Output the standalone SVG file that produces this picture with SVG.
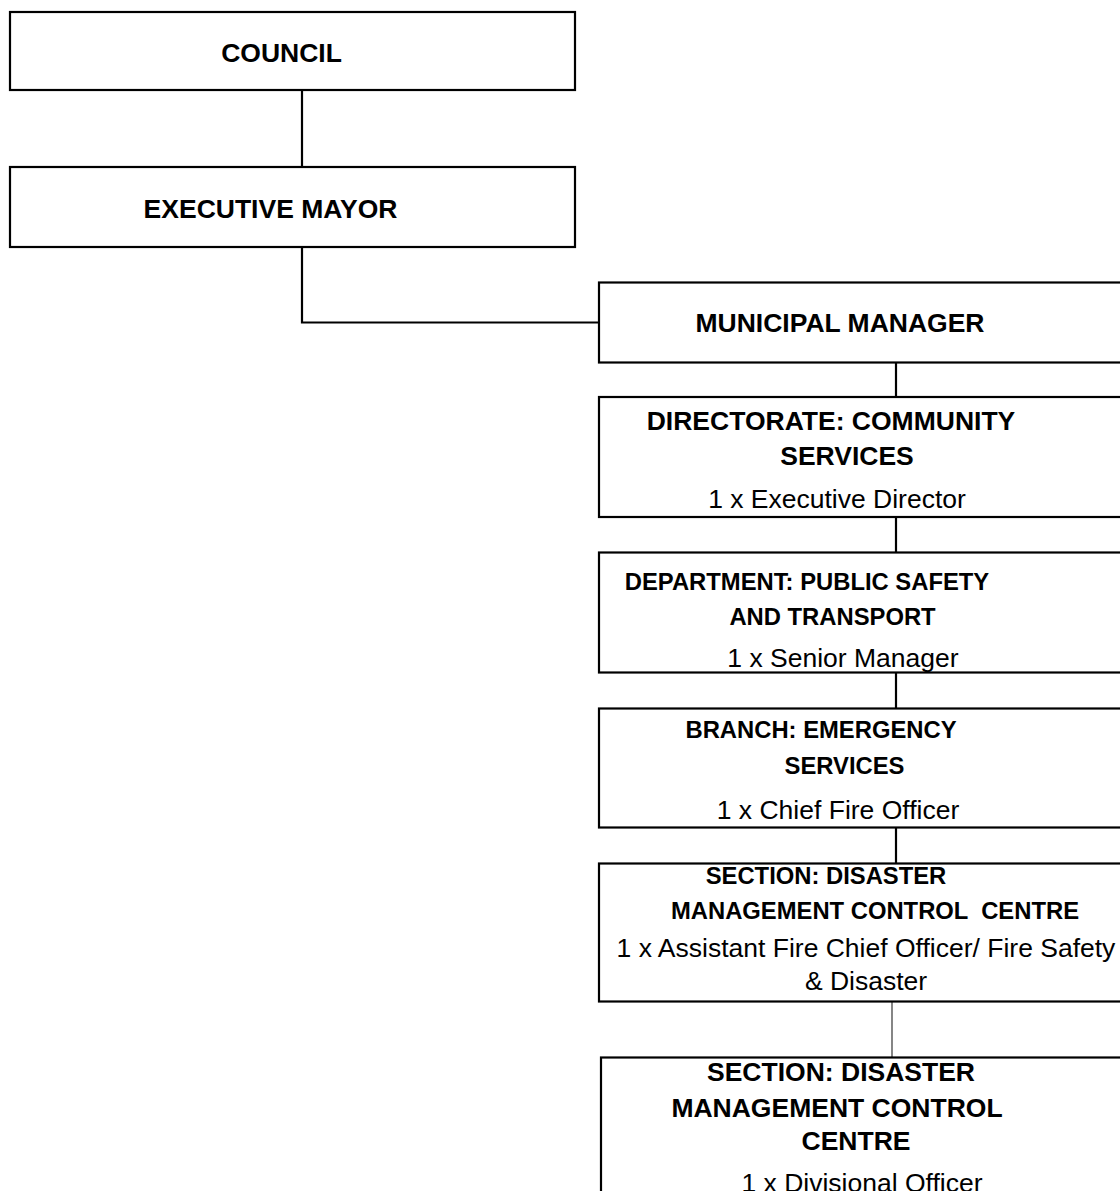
<svg xmlns="http://www.w3.org/2000/svg" width="1120" height="1191" viewBox="0 0 1120 1191">
  <style>
    .box { fill: #ffffff; stroke: #000000; stroke-width: 2.2; }
    .wire { fill: none; stroke: #000000; stroke-width: 2.2; }
    .thin { fill: none; stroke: #222222; stroke-width: 1.1; }
    text { font-family: "Liberation Sans", Arial, sans-serif; fill: #000000; text-anchor: middle; white-space: pre; }
    .h { font-weight: bold; font-size: 26.5px; }
    .hs { font-weight: bold; font-size: 23.8px; }
    .r { font-size: 26.5px; }
  </style>
  <rect x="0" y="0" width="1120" height="1191" fill="#ffffff"/>

  <!-- reporting lines -->
  <g id="connectors">
    <line class="wire" x1="302" y1="90" x2="302" y2="167"/>
    <polyline class="wire" points="302,247 302,322.5 599,322.5"/>
    <line class="wire" x1="896" y1="362" x2="896" y2="397"/>
    <line class="wire" x1="896" y1="517" x2="896" y2="552"/>
    <line class="wire" x1="896" y1="673" x2="896" y2="708"/>
    <line class="wire" x1="896" y1="827" x2="896" y2="863"/>
    <line class="thin" x1="892" y1="1002" x2="892" y2="1057"/>
  </g>

  <g id="council">
    <rect class="box" x="10" y="12" width="565" height="78"/>
    <text class="h" x="281.5" y="62">COUNCIL</text>
  </g>

  <g id="executive-mayor">
    <rect class="box" x="10" y="167" width="565" height="80"/>
    <text class="h" x="270.5" y="218">EXECUTIVE MAYOR</text>
  </g>

  <g id="municipal-manager">
    <rect class="box" x="599" y="282.5" width="540" height="80"/>
    <text class="h" x="840" y="332">MUNICIPAL MANAGER</text>
  </g>

  <g id="directorate-community-services">
    <rect class="box" x="599" y="397" width="540" height="120"/>
    <text class="h" x="831" y="430">DIRECTORATE: COMMUNITY</text>
    <text class="h" x="847" y="465">SERVICES</text>
    <text class="r" x="837" y="508">1 x Executive Director</text>
  </g>

  <g id="department-public-safety">
    <rect class="box" x="599" y="552.5" width="540" height="120"/>
    <text class="hs" x="807" y="590">DEPARTMENT: PUBLIC SAFETY</text>
    <text class="hs" x="832.5" y="625">AND TRANSPORT</text>
    <text class="r" x="843" y="666.5">1 x Senior Manager</text>
  </g>

  <g id="branch-emergency-services">
    <rect class="box" x="599" y="708.5" width="540" height="119"/>
    <text class="hs" x="821" y="738">BRANCH: EMERGENCY</text>
    <text class="hs" x="844.5" y="774">SERVICES</text>
    <text class="r" x="838" y="819">1 x Chief Fire Officer</text>
  </g>

  <g id="section-dmcc-chief">
    <rect class="box" x="599" y="863.5" width="540" height="138"/>
    <text class="hs" x="826" y="884">SECTION: DISASTER</text>
    <text class="hs" x="875" y="919">MANAGEMENT CONTROL  CENTRE</text>
    <text class="r" x="866" y="957">1 x Assistant Fire Chief Officer/ Fire Safety</text>
    <text class="r" x="866" y="990">&amp; Disaster</text>
  </g>

  <g id="section-dmcc-officer">
    <rect class="box" x="601" y="1057.5" width="540" height="160"/>
    <text class="h" x="841" y="1081">SECTION: DISASTER</text>
    <text class="h" x="837" y="1117">MANAGEMENT CONTROL</text>
    <text class="h" x="856" y="1150">CENTRE</text>
    <text class="r" x="862" y="1192">1 x Divisional Officer</text>
  </g>
</svg>
